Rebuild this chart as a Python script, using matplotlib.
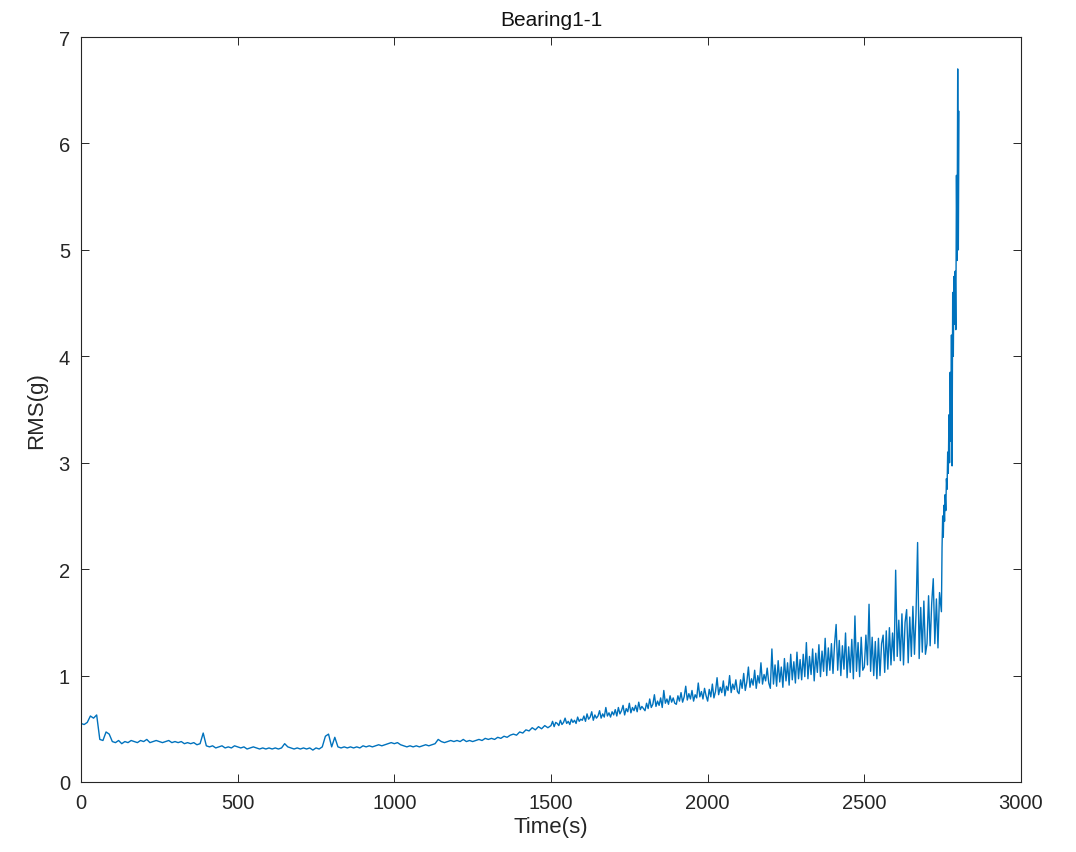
import numpy as np
import matplotlib
matplotlib.use("Agg")
import matplotlib.pyplot as plt

plt.rcParams['font.family'] = ['Liberation Sans', 'DejaVu Sans']

# 0 .. 1490 s, every 10 s
t_early = np.arange(0, 1500, 10)
rms_early = [
    0.55, 0.54, 0.56, 0.62, 0.60, 0.63, 0.40, 0.39, 0.47, 0.45,
    0.38, 0.37, 0.39, 0.36, 0.38, 0.37, 0.39, 0.38, 0.37, 0.39,
    0.38, 0.40, 0.37, 0.38, 0.39, 0.38, 0.37, 0.38, 0.39, 0.37,
    0.38, 0.37, 0.38, 0.36, 0.37, 0.36, 0.37, 0.35, 0.36, 0.46,
    0.34, 0.33, 0.34, 0.32, 0.33, 0.34, 0.32, 0.33, 0.32, 0.34,
    0.33, 0.32, 0.33, 0.31, 0.32, 0.33, 0.32, 0.31, 0.32, 0.31,
    0.32, 0.31, 0.32, 0.31, 0.32, 0.36, 0.33, 0.32, 0.31, 0.32,
    0.31, 0.32, 0.31, 0.32, 0.30, 0.32, 0.31, 0.33, 0.43, 0.45,
    0.33, 0.42, 0.33, 0.32, 0.33, 0.32, 0.33, 0.32, 0.33, 0.32,
    0.34, 0.33, 0.34, 0.33, 0.34, 0.35, 0.34, 0.35, 0.36, 0.37,
    0.36, 0.37, 0.35, 0.34, 0.33, 0.34, 0.33, 0.34, 0.33, 0.34,
    0.35, 0.34, 0.35, 0.36, 0.40, 0.38, 0.37, 0.38, 0.39, 0.38,
    0.39, 0.38, 0.40, 0.38, 0.39, 0.38, 0.39, 0.40, 0.39, 0.41,
    0.40, 0.41, 0.40, 0.42, 0.41, 0.43, 0.42, 0.44, 0.45, 0.44,
    0.47, 0.46, 0.49, 0.48, 0.51, 0.49, 0.52, 0.50, 0.53, 0.51,
]

# 1500 .. 2740 s, every 5 s
t_mid = np.arange(1500, 2745, 5)
rms_mid = [
    0.53, 0.57, 0.52, 0.56, 0.55, 0.53, 0.58, 0.54, 0.56, 0.60, 0.55, 0.57, 0.54, 0.59, 0.56, 0.58, 0.55, 0.61, 0.57, 0.59,
    0.58, 0.62, 0.57, 0.64, 0.59, 0.61, 0.66, 0.58, 0.63, 0.60, 0.62, 0.67, 0.60, 0.64, 0.61, 0.70, 0.62, 0.65, 0.61, 0.66,
    0.63, 0.68, 0.62, 0.70, 0.64, 0.67, 0.72, 0.63, 0.69, 0.66, 0.74, 0.65, 0.70, 0.67, 0.72, 0.66, 0.75, 0.68, 0.71, 0.69,
    0.67, 0.74, 0.69, 0.78, 0.70, 0.73, 0.82, 0.71, 0.76, 0.72, 0.79, 0.70, 0.86, 0.74, 0.78, 0.73, 0.81, 0.75, 0.79, 0.74,
    0.73, 0.81, 0.76, 0.84, 0.75, 0.80, 0.90, 0.77, 0.83, 0.78, 0.86, 0.76, 0.82, 0.79, 0.93, 0.80, 0.85, 0.78, 0.88, 0.81,
    0.76, 0.87, 0.80, 0.92, 0.79, 0.85, 0.98, 0.82, 0.89, 0.84, 0.95, 0.81, 0.90, 0.86, 1.00, 0.84, 0.92, 0.87, 0.96, 0.85,
    0.83, 0.96, 0.88, 1.02, 0.86, 0.94, 1.08, 0.89, 0.97, 0.91, 1.05, 0.88, 1.00, 0.93, 1.12, 0.92, 1.01, 0.95, 1.07, 0.93,
    0.88, 1.25, 0.92, 1.10, 0.90, 1.14, 0.94, 1.08, 0.89, 1.16, 0.95, 1.12, 0.91, 1.20, 0.96, 1.13, 0.93, 1.22, 0.97, 1.15,
    0.96, 1.20, 0.99, 1.31, 0.97, 1.18, 1.01, 1.25, 0.95, 1.21, 1.03, 1.29, 0.99, 1.23, 1.04, 1.35, 1.00, 1.26, 1.05, 1.30,
    1.02, 1.30, 1.48, 1.05, 1.33, 1.00, 1.28, 1.06, 1.40, 0.98, 1.27, 1.03, 1.34, 0.97, 1.56, 1.04, 1.31, 0.99, 1.36, 1.05,
    1.08, 1.38, 1.10, 1.67, 1.04, 1.36, 1.00, 1.32, 0.97, 1.35, 1.00, 1.30, 1.38, 1.03, 1.42, 1.06, 1.45, 1.10, 1.40, 1.14,
    1.99, 1.18, 1.52, 1.14, 1.58, 1.10, 1.50, 1.62, 1.12, 1.55, 1.18, 1.65, 1.20, 1.58, 2.25, 1.16, 1.64, 1.22, 1.70, 1.20,
    1.30, 1.75, 1.28, 1.68, 1.91, 1.30, 1.72, 1.26, 1.78,
]

# 2746 .. 2802 s, every 2 s (final failure)
t_end = np.arange(2746, 2803, 2)
rms_end = [
    1.60, 2.20, 2.50, 2.30, 2.60, 2.45, 2.70, 2.55, 2.85, 2.75,
    3.10, 2.90, 3.45, 3.00, 3.85, 3.20, 4.20, 2.97, 4.60, 4.00,
    4.75, 4.30, 4.80, 4.25, 5.70, 4.90, 6.70, 5.00, 6.30,
]

t = np.concatenate([t_early, t_mid, t_end])
rms = np.concatenate([rms_early, rms_mid, rms_end])

fig = plt.figure(figsize=(10.76, 8.53), dpi=100)
ax = fig.add_axes([81 / 1076, 70 / 853, 940 / 1076, 745 / 853])
ax.plot(t, rms, color='#0072BD', lw=1.0)

ax.set_xlim(0, 3000)
ax.set_ylim(0, 7)
ax.set_xticks(range(0, 3001, 500))
ax.set_yticks(range(0, 8))
ax.tick_params(direction='in', length=6, width=0.7, top=True, right=True,
               labelsize=14.5, colors='#262626', pad=8)
for s in ax.spines.values():
    s.set_linewidth(0.8)
    s.set_color('#262626')

ax.set_title('Bearing1-1', fontsize=15, color='#111111', pad=9)
ax.set_xlabel('Time(s)', fontsize=16, color='#262626', labelpad=3)
ax.set_ylabel('RMS(g)', fontsize=16, color='#262626', labelpad=8)

fig.savefig('out.png', dpi=100)
